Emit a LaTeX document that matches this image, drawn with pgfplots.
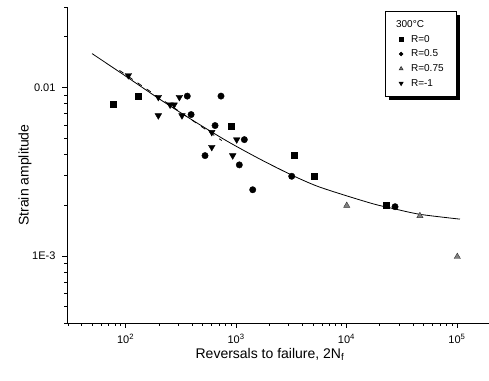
\documentclass[border=0pt]{standalone}
\usepackage{pgfplots}
\pgfplotsset{compat=1.18}
\usepackage{fontspec}
\setmainfont{Liberation Sans}
\usetikzlibrary{shadows}

\begin{document}
\begin{tikzpicture}
% page frame: 489 x 380 around an axis box of 422 x 316
\useasboundingbox (-67pt,-57pt) rectangle (422pt,323pt);
\begin{axis}[
  at={(0,0)}, anchor=south west,
  scale only axis, width=422pt, height=316pt,
  xmode=log, ymode=log,
  xmin=29.5, xmax=1.95e5,
  ymin=4e-4, ymax=0.03,
  axis x line*=bottom, axis y line*=left,
  axis line style={-, line width=0.8pt},
  tick align=outside,
  major tick length=5pt, minor tick length=3pt,
  tick style={black, line width=0.6pt},
  xtick={100,1000,10000,100000},
  xticklabels={10\textsuperscript{2},10\textsuperscript{3},10\textsuperscript{4},10\textsuperscript{5}},
  minor xtick={30,40,50,60,70,80,90,200,300,400,500,600,700,800,900,
    2000,3000,4000,5000,6000,7000,8000,9000,
    20000,30000,40000,50000,60000,70000,80000,90000,
    200000},
  ytick={0.001,0.01},
  yticklabels={1E-3,0.01},
  minor ytick={4e-4,5e-4,6e-4,7e-4,8e-4,9e-4,
    0.002,0.003,0.004,0.005,0.006,0.007,0.008,0.009,0.02,0.03},
  ticklabel style={font=\fontsize{11}{13}\selectfont},
  xticklabel style={yshift=-3pt},
  yticklabel style={xshift=-3pt},
  xlabel={Reversals to failure, 2N\textsubscript{f}},
  ylabel={Strain amplitude},
  label style={font=\fontsize{14}{16}\selectfont},
  xlabel style={at={(axis description cs:0.481,0)}, anchor=north, yshift=-22pt},
  ylabel style={at={(axis description cs:0,0.468)}, anchor=south, yshift=32pt},
  legend style={
    at={(axis description cs:0.924,0.987)}, anchor=north east,
    draw=black, line width=0.6pt, fill=white,
    drop shadow={shadow xshift=3.5pt, shadow yshift=-3.5pt, fill=black, opacity=1},
    font=\fontsize{10}{12}\selectfont,
    row sep=2.2pt, inner xsep=11pt, inner ysep=7pt,
    legend cell align=left,
    /tikz/every odd column/.append style={column sep=6pt},
  },
  legend image post style={scale=0.6},
]

% fitted strain-life curve
\addplot[black, line width=0.8pt, smooth, forget plot] coordinates {
  (49.76,0.015869) (103.2,0.011514) (205.2,0.008485) (408.2,0.006362)
  (829.1,0.004802) (1649,0.003753) (3212,0.003014) (5297,0.002610)
  (8735,0.002339) (17375,0.002039) (26350,0.001912) (46270,0.001766)
  (106440,0.001654)
};
% fit of the fully reversed tests
\addplot[black, line width=0.8pt, dash pattern=on 5pt off 6pt, forget plot] coordinates {
  (88,0.01262) (743,0.00484)
};

\addlegendimage{empty legend}
\addlegendentry{\hspace*{-15pt}300\textdegree C}

% R = 0
\addplot[only marks, mark=square*, mark size=3pt, black] coordinates {
  (77,0.00792) (129,0.00888) (895,0.00589) (3327,0.00394)
  (5115,0.00297) (23100,0.00199)
};
\addlegendentry{R=0}

% R = 0.5
\addplot[only marks, mark=*, mark size=3.2pt, black] coordinates {
  (362,0.00888) (392,0.0069) (731,0.00888) (646,0.00594)
  (1189,0.0049) (524,0.00394) (1071,0.00347) (1416,0.00247)
  (3192,0.00297) (27500,0.00196)
};
\addlegendentry{R=0.5}

% R = 0.75
\addplot[only marks, mark=triangle*, mark size=3.6pt, draw=black!80, fill=gray] coordinates {
  (10050,0.00199) (46200,0.00173) (100700,0.00099)
};
\addlegendentry{R=0.75}

% R = -1
\addplot[only marks, mark=triangle*, mark size=3.8pt, mark options={rotate=180}, black] coordinates {
  (106,0.01178) (198,0.00875) (198,0.00681) (307,0.00875)
  (253,0.00789) (275,0.00789) (324,0.00681) (603,0.00542)
  (1014,0.0049) (603,0.00442) (933,0.00394)
};
\addlegendentry{R=-1}

\end{axis}
\end{tikzpicture}
\end{document}
